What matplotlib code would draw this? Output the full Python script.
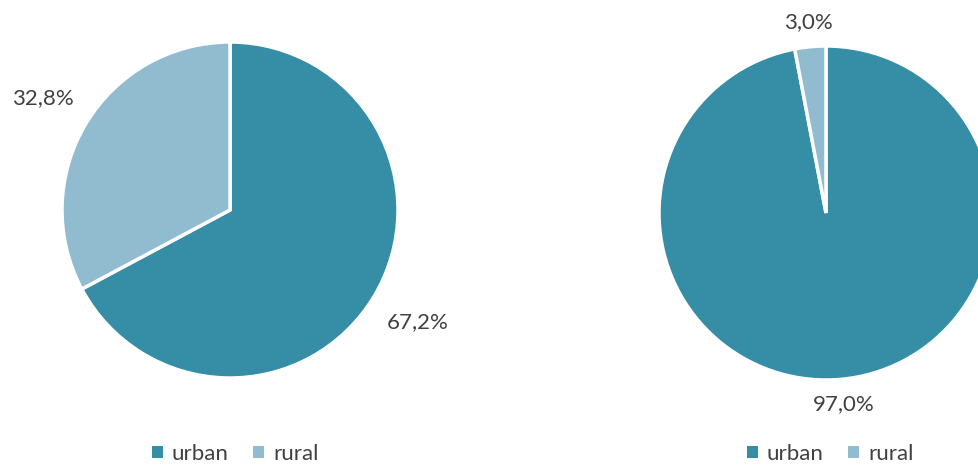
import matplotlib
matplotlib.use('Agg')
import matplotlib.pyplot as plt
from matplotlib.patches import Patch

# data
categories = ['urban', 'rural']
left_values = [67.2, 32.8]
right_values = [97.0, 3.0]
colors = ['#358EA6', '#91BCCF']

plt.rcParams['font.family'] = ['Lato', 'DejaVu Sans']
text_color = '#404040'

W, H = 979, 466
fig = plt.figure(figsize=(W / 100, H / 100), dpi=100)
ax = fig.add_axes([0, 0, 1, 1])


def fmt(v):
    return f'{v:.1f}%'.replace('.', ',')


def draw_pie(values, center, radius, labeldist):
    wedges, texts = ax.pie(values, colors=colors, startangle=90, counterclock=False,
                           center=center, radius=radius,
                           labels=[fmt(v) for v in values], labeldistance=labeldist,
                           wedgeprops=dict(edgecolor='white', linewidth=2.5),
                           textprops=dict(color=text_color, fontsize=16))
    for t in texts:
        t.set_ha('center')
        t.set_va('center')
    return wedges


w1 = draw_pie(left_values, (230, H - 210), 168, 1.3)
w2 = draw_pie(right_values, (826, H - 213), 167, 1.15)

ax.set_xlim(0, W)
ax.set_ylim(0, H)
ax.set_aspect('auto')
ax.axis('off')

handles = [Patch(facecolor=c, edgecolor='none') for c in colors]
for cx in (235, 830):
    fig.legend(handles, categories, loc='center', bbox_to_anchor=(cx / W, 1 - 454 / H),
               ncol=2, frameon=False, fontsize=16, labelcolor=text_color,
               handlelength=0.5, handleheight=0.5, handletextpad=0.4, columnspacing=1.1,
               borderpad=0.1)

fig.savefig('out.png', dpi=100)
